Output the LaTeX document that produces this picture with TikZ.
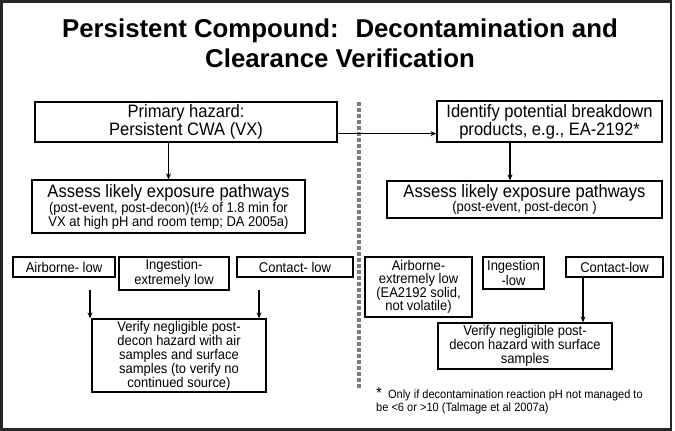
\documentclass[tikz,border=0pt]{standalone}
\usepackage{fontspec}
\setmainfont[FakeStretch=0.92]{Liberation Sans}
\newfontfamily\titlefont{Liberation Sans}
\usetikzlibrary{arrows.meta}
\begin{document}
\begin{tikzpicture}[x=1pt,y=-1pt,
  box/.style={draw=black, line width=1.3pt, inner sep=0pt, align=center, text=black},
  bigtxt/.style={font=\fontsize{18}{18}\selectfont},
  smalltxt/.style={font=\fontsize{14.1}{14.5}\selectfont},
  arr/.style={line width=1.1pt, -{Stealth[length=6pt,width=5pt]}},
  sep/.style={draw=black!52, line width=4pt, dash pattern=on 4pt off 2pt},
]
\useasboundingbox (0,0) rectangle (675,431);
\draw[line width=2.5pt, draw=black!85] (1.5,1.5) rectangle (671,429.5);

\node[font=\titlefont\fontsize{25.8}{29.5}\selectfont\bfseries, align=center] (title) at (340,43.5)
  {Persistent Compound:~ Decontamination and\\Clearance Verification};

% left column
\node[box, bigtxt, minimum width=302pt, minimum height=40pt] (primary) at (186,122)
  {Primary hazard:\\Persistent CWA (VX)};
\node[box, font=\fontsize{14.1}{14}\selectfont, minimum width=273pt, minimum height=53pt] (assess1) at (168.5,206.5)
  {{\fontsize{18}{18}\selectfont Assess likely exposure pathways}\\[1pt]
   (post-event, post-decon)(t½ of 1.8 min for\\VX at high pH and room temp; DA 2005a)};
\node[box, smalltxt, minimum width=102pt, minimum height=20pt] (air1) at (64,267) {Airborne- low};
\node[box, smalltxt, minimum width=110pt, minimum height=33pt] (ing1) at (174,273.5) {Ingestion-\\extremely low};
\node[box, smalltxt, minimum width=116pt, minimum height=20pt] (con1) at (295,267) {Contact- low};
\node[box, font=\fontsize{14.1}{14}\selectfont, minimum width=174pt, minimum height=73pt] (verify1) at (179,355.5)
  {Verify negligible post-\\decon hazard with air\\samples and surface\\samples (to verify no\\continued source)};

% right column
\node[box, bigtxt, minimum width=225pt, minimum height=41pt] (identify) at (549.5,121.5)
  {Identify potential breakdown\\products, e.g., EA-2192*};
\node[box, font=\fontsize{14.1}{14}\selectfont, minimum width=275pt, minimum height=37pt] (assess2) at (524.5,199.5)
  {{\fontsize{18}{18}\selectfont Assess likely exposure pathways}\\
   (post-event, post-decon )};
\node[box, font=\fontsize{14.1}{13.5}\selectfont, minimum width=107pt, minimum height=60pt] (air2) at (418.5,287)
  {Airborne-\\extremely low\\(EA2192 solid,\\not volatile)};
\node[box, smalltxt, minimum width=61pt, minimum height=32pt] (ing2) at (513.5,273) {Ingestion\\-low};
\node[box, smalltxt, minimum width=97pt, minimum height=20pt] (con2) at (614.5,267) {Contact-low};
\node[box, font=\fontsize{14.1}{14}\selectfont, minimum width=174pt, minimum height=46pt] (verify2) at (525,346)
  {Verify negligible post-\\decon hazard with surface\\samples};

\node[anchor=north west, inner sep=0pt, align=left, font=\fontsize{12}{13}\selectfont] (foot) at (376,387)
  {\raisebox{0.5pt}{\fontsize{16}{13}\selectfont *}\ \ Only if decontamination reaction pH not managed to\\be <6 or >10 (Talmage et al 2007a)};

% separator
\coordinate (septop) at (359,102);
\coordinate (sepbot) at (359,388);
\draw[sep] (septop) -- (sepbot);

% connectors
\draw[arr] (primary.south -| assess1.north) -- (assess1.north);
\draw[arr] ([yshift=9pt]primary.south east) -- ([yshift=9pt]primary.south east -| identify.west);
\draw[arr] ([xshift=-39.5pt]identify.south) -- ([xshift=-39.5pt]identify.south |- assess2.north);
\coordinate (s1) at (90,290);
\coordinate (s2) at (259,290);
\coordinate (s3) at (583,277);
\draw[arr] (s1) -- (s1 |- verify1.north);
\draw[arr] (s2) -- (s2 |- verify1.north);
\draw[arr] (con2.south -| s3) -- (s3 |- verify2.north);
\end{tikzpicture}
\end{document}
